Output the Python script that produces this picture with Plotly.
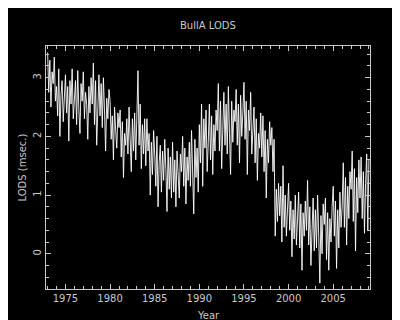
import plotly.graph_objects as go

# LODS values (msec), eight readings per year
years = list(range(1973, 2009))
lods_1973_1980 = [
    [3.43, 2.75, 3.30, 2.50, 3.10, 2.90, 3.35, 2.60],
    [2.85, 2.35, 3.15, 2.00, 2.70, 2.95, 2.25, 2.80],
    [3.05, 2.40, 2.85, 1.92, 2.95, 2.55, 3.15, 2.30],
    [2.70, 2.95, 2.20, 3.12, 2.45, 2.05, 2.90, 2.60],
    [3.10, 2.30, 2.75, 2.55, 1.95, 2.85, 2.40, 3.00],
    [2.55, 3.25, 2.20, 2.95, 1.85, 2.70, 3.05, 2.35],
    [2.90, 2.15, 3.00, 2.45, 1.75, 2.65, 2.30, 2.80],
    [2.60, 1.95, 2.35, 1.60, 2.50, 2.10, 1.80, 2.40],
]
lods_1981_1990 = [
    [2.15, 2.45, 1.65, 2.25, 1.30, 2.05, 1.85, 2.30],
    [1.70, 2.50, 1.95, 1.40, 2.30, 1.75, 2.40, 1.60],
    [2.35, 3.12, 1.85, 2.55, 1.45, 2.20, 1.70, 2.30],
    [1.50, 2.30, 1.75, 2.05, 1.00, 1.90, 1.35, 2.10],
    [1.70, 1.15, 2.00, 0.80, 1.55, 1.85, 1.05, 1.75],
    [1.25, 1.95, 1.45, 0.72, 1.80, 1.10, 1.65, 0.95],
    [1.90, 1.05, 1.60, 0.80, 1.75, 1.35, 0.95, 1.70],
    [1.40, 2.00, 1.15, 1.80, 0.85, 1.65, 1.25, 1.90],
    [1.15, 2.10, 1.50, 0.68, 1.95, 1.30, 1.80, 1.05],
    [2.20, 1.55, 2.55, 1.15, 2.30, 1.80, 2.45, 1.40],
]
lods_1991_2000 = [
    [1.90, 2.55, 1.60, 2.35, 1.35, 2.20, 1.75, 2.45],
    [2.10, 2.90, 1.75, 2.60, 1.45, 2.40, 2.75, 1.85],
    [2.55, 1.70, 2.85, 2.05, 1.35, 2.60, 1.90, 2.45],
    [2.25, 2.80, 1.85, 2.55, 1.55, 2.70, 2.00, 2.40],
    [2.92, 1.95, 2.60, 1.35, 2.45, 2.10, 2.75, 1.70],
    [2.20, 2.50, 1.55, 2.30, 1.25, 2.05, 1.80, 2.40],
    [1.65, 2.35, 1.40, 2.10, 0.95, 1.95, 1.55, 2.25],
    [1.85, 2.15, 1.40, 1.95, 0.30, 1.10, 0.55, 1.20],
    [0.65, 1.15, 0.20, 1.50, 0.45, 1.00, 0.30, 0.95],
    [1.20, 0.40, 0.90, -0.05, 0.75, 0.25, 1.00, 0.15],
]
lods_2001_2008 = [
    [0.55, 1.05, 0.10, 0.85, -0.28, 0.70, 0.30, 0.90],
    [0.40, 1.25, 0.15, 0.80, -0.20, 0.60, 0.95, 0.05],
    [0.75, 0.10, 1.00, 0.30, -0.50, 0.65, 0.00, 0.85],
    [0.50, 0.95, -0.10, 0.70, -0.28, 0.60, 0.20, 0.80],
    [1.15, 0.30, 0.90, -0.25, 0.75, 0.10, 1.05, 0.45],
    [0.80, 1.55, 0.45, 1.30, 0.15, 1.15, 0.60, 1.40],
    [1.10, 1.75, 0.55, 1.45, 0.05, 1.30, 0.70, 1.60],
    [0.95, 1.65, 0.60, 1.40, 0.35, 1.20, 1.70, 0.40],
]
last_year = 2009
last_value = 1.60

y_ticks = [0, 1, 2, 3]
x_ticks = [1975, 1980, 1985, 1990, 1995, 2000, 2005]

per_year = lods_1973_1980 + lods_1981_1990 + lods_1991_2000 + lods_2001_2008
xs, ys = [], []
for yr, vals in zip(years, per_year):
    n = len(vals)
    for i, v in enumerate(vals):
        xs.append(yr + i / n)
        ys.append(v)
xs.append(last_year)
ys.append(last_value)

FG = "#c8c8c8"
FONT = dict(family="DejaVu Sans", size=10, color=FG)

fig = go.Figure(go.Scatter(x=xs, y=ys, mode="lines",
                           line=dict(color="white", width=0.9)))

axis_common = dict(showline=True, linecolor=FG, linewidth=1, mirror="ticks",
                   ticks="inside", ticklen=5, tickcolor=FG, tickwidth=1,
                   showgrid=False, zeroline=False, tickfont=FONT)

fig.update_layout(
    width=400, height=320,
    paper_bgcolor="black", plot_bgcolor="black",
    margin=dict(l=38, r=38, t=38, b=39),
    showlegend=False,
    font=FONT,
    xaxis=dict(range=[1972.82, 2009.12], tickvals=x_ticks,
               minor=dict(ticks="inside", ticklen=3, dtick=1, tick0=1975, tickcolor=FG),
               **axis_common),
    yaxis=dict(range=[-0.6, 3.54], tickvals=y_ticks, tickangle=-90,
               minor=dict(ticks="inside", ticklen=3, dtick=0.2, tick0=0, tickcolor=FG),
               **axis_common),
    annotations=[
        dict(text="BullA LODS", xref="paper", yref="paper", x=0.5, y=1.086,
             showarrow=False, font=FONT, xanchor="center", yanchor="middle"),
        dict(text="Year", xref="paper", yref="paper", x=0.5, y=-0.108,
             showarrow=False, font=FONT, xanchor="center", yanchor="middle"),
        dict(text="LODS (msec.)", xref="paper", yref="paper", x=-0.071, y=0.5,
             showarrow=False, font=FONT, textangle=-90,
             xanchor="center", yanchor="middle"),
    ],
)

fig.write_html("out.html")
